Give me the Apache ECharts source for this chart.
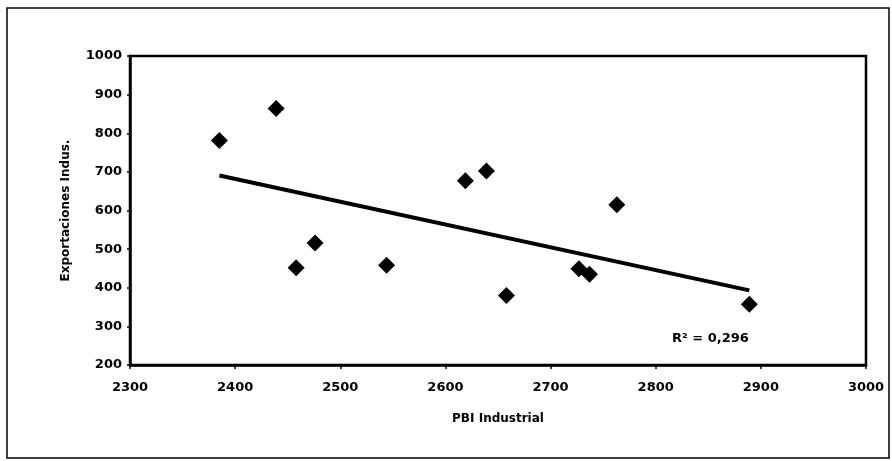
<!DOCTYPE html>
<html>
<head>
<meta charset="utf-8">
<script src="https://cdn.jsdelivr.net/npm/echarts@6/dist/echarts.min.js"></script>
<style>
	html, body { margin: 0; padding: 0; background: #fff; }
	#main { width: 892px; height: 461px; }
</style>
</head>
<body>
<div id="main"></div>
<script>
	// PBI Industrial vs Exportaciones Indus.
	var pbi = [2385, 2439, 2458, 2476, 2544, 2619, 2639, 2658, 2727, 2737, 2763, 2889];
	var exportaciones = [781, 864, 452, 516, 458, 677, 702, 380, 449, 435, 615, 357];
	var xTicks = [2300, 3000, 100];   // min, max, interval
	var yTicks = [200, 1000, 100];
	var r2Label = 'R² = 0,296';

	var font = 'DejaVu Sans';

	// linear trend (least squares)
	var n = pbi.length, mx = 0, my = 0;
	for (var i = 0; i < n; i++) { mx += pbi[i]; my += exportaciones[i]; }
	mx /= n; my /= n;
	var sxy = 0, sxx = 0;
	for (var i = 0; i < n; i++) {
		sxy += (pbi[i] - mx) * (exportaciones[i] - my);
		sxx += (pbi[i] - mx) * (pbi[i] - mx);
	}
	var slope = sxy / sxx, icpt = my - slope * mx;
	var x0 = Math.min.apply(null, pbi), x1 = Math.max.apply(null, pbi);
	var trend = [[x0, icpt + slope * x0], [x1, icpt + slope * x1]];

	var points = pbi.map(function (x, i) { return [x, exportaciones[i]]; });

	var plain = function (v) { return String(v); };

	var myChart = echarts.init(document.getElementById('main'));
	var option = {
		backgroundColor: '#fff',
		animation: false,
		grid: {
			left: 130, right: 26, top: 56, bottom: 96,
			show: true, borderColor: '#000', borderWidth: 2.5
		},
		xAxis: {
			type: 'value',
			min: xTicks[0], max: xTicks[1], interval: xTicks[2],
			name: 'PBI Industrial',
			nameLocation: 'middle',
			nameGap: 48,
			nameTextStyle: { fontFamily: font, fontWeight: 'bold', fontSize: 12, color: '#000' },
			axisLine: { lineStyle: { color: '#000', width: 2.5 } },
			axisTick: { show: true, inside: false, length: 4, lineStyle: { color: '#000', width: 1.5 } },
			axisLabel: { fontFamily: font, fontWeight: 'bold', fontSize: 13, color: '#000', margin: 16, formatter: plain },
			splitLine: { show: false }
		},
		yAxis: {
			type: 'value',
			min: yTicks[0], max: yTicks[1], interval: yTicks[2],
			name: 'Exportaciones Indus.',
			nameLocation: 'middle',
			nameGap: 58,
			nameTextStyle: { fontFamily: font, fontWeight: 'bold', fontSize: 12, color: '#000' },
			axisLine: { lineStyle: { color: '#000', width: 2.5 } },
			axisTick: { show: true, inside: false, length: 3, lineStyle: { color: '#000', width: 1.5 } },
			axisLabel: { fontFamily: font, fontWeight: 'bold', fontSize: 13, color: '#000', margin: 8, formatter: plain },
			splitLine: { show: false }
		},
		series: [
			{
				name: 'Tendencia',
				type: 'line',
				data: trend,
				symbol: 'none',
				lineStyle: { color: '#000', width: 4 },
				z: 2
			},
			{
				name: 'Exportaciones',
				type: 'scatter',
				data: points,
				symbol: 'diamond',
				symbolSize: [17, 17],
				itemStyle: { color: '#000', opacity: 1 },
				z: 3
			}
		],
		graphic: [
			{
				type: 'rect',
				shape: { x: 7, y: 8, width: 882, height: 450 },
				style: { fill: 'none', stroke: '#000', lineWidth: 1.5 },
				z: -1
			},
			{
				type: 'text',
				left: 672, top: 332,
				style: {
					text: r2Label,
					font: 'bold 13px "DejaVu Sans"',
					fill: '#000'
				}
			}
		]
	};
	myChart.setOption(option, true);
</script>
</body>
</html>
